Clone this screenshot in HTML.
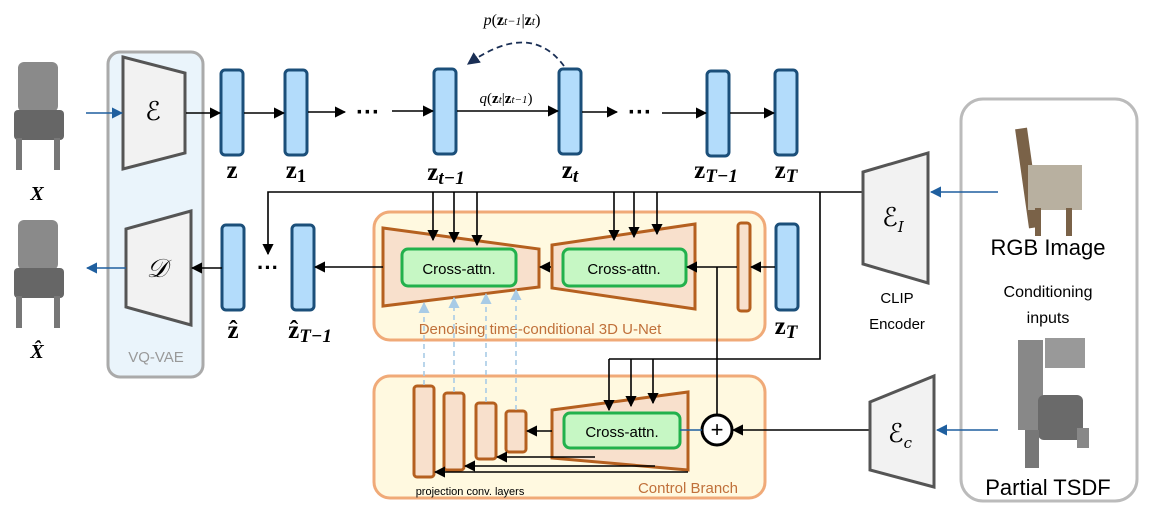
<!DOCTYPE html>
<html><head><meta charset="utf-8"><style>
html,body{margin:0;padding:0;background:#fff}
svg{display:block}
.s{font-family:"Liberation Sans",sans-serif}
.m{font-family:"Liberation Serif",serif;font-weight:bold;font-style:italic}
</style></head><body>
<svg width="1149" height="520" viewBox="0 0 1149 520" xmlns="http://www.w3.org/2000/svg">
<defs>
<marker id="a" viewBox="0 0 10 10" refX="9" refY="5" markerWidth="7" markerHeight="7" orient="auto-start-reverse"><path d="M0,0L10,5L0,10z" fill="#000"/></marker>
<marker id="b" viewBox="0 0 10 10" refX="9" refY="5" markerWidth="7" markerHeight="7" orient="auto-start-reverse"><path d="M0,0L10,5L0,10z" fill="#1f5f9f"/></marker>
<marker id="c" viewBox="0 0 10 10" refX="9" refY="5" markerWidth="7" markerHeight="7" orient="auto-start-reverse"><path d="M0,0L10,5L0,10z" fill="#a8cbe6"/></marker>
<marker id="d" viewBox="0 0 10 10" refX="9" refY="5" markerWidth="7" markerHeight="7" orient="auto-start-reverse"><path d="M0,0L10,5L0,10z" fill="#1a2f55"/></marker>
</defs>

<!-- conditioning box (drawn first) -->
<rect x="961" y="99" width="176" height="402" rx="22" fill="#fff" stroke="#bbb" stroke-width="3"/>

<!-- chairs -->
<g fill="#7a7a7a">
<rect x="18" y="62" width="40" height="50" rx="6" fill="#8a8a8a"/>
<rect x="14" y="110" width="50" height="30" rx="4" fill="#666"/>
<rect x="16" y="138" width="6" height="32" fill="#777"/><rect x="54" y="138" width="6" height="32" fill="#777"/>
<rect x="18" y="220" width="40" height="50" rx="6" fill="#8a8a8a"/>
<rect x="14" y="268" width="50" height="30" rx="4" fill="#666"/>
<rect x="16" y="296" width="6" height="32" fill="#777"/><rect x="54" y="296" width="6" height="32" fill="#777"/>
</g>
<text x="37" y="200" class="m" font-size="20" text-anchor="middle">X</text>
<text x="37" y="358" class="m" font-size="20" text-anchor="middle">X̂</text>

<!-- VQ-VAE -->
<rect x="108" y="52" width="95" height="325" rx="12" fill="#eaf4fb" stroke="#aaa" stroke-width="3"/>
<text x="156" y="362" class="s" font-size="15" fill="#999" text-anchor="middle">VQ-VAE</text>
<polygon points="123,57 185,73 185,153 123,169" fill="#f2f2f2" stroke="#555" stroke-width="3"/>
<text x="153" y="120" font-family="DejaVu Serif,serif" font-size="26" text-anchor="middle">ℰ</text>
<polygon points="126,229 191,211 191,325 126,307" fill="#f2f2f2" stroke="#555" stroke-width="3"/>
<text x="157" y="277" font-family="DejaVu Serif,serif" font-style="italic" font-size="26" text-anchor="middle">𝒟</text>
<line x1="86" y1="113" x2="122" y2="113" stroke="#1f5f9f" stroke-width="1.6" marker-end="url(#b)"/>
<line x1="126" y1="268" x2="87" y2="268" stroke="#1f5f9f" stroke-width="1.6" marker-end="url(#b)"/>

<!-- bars -->
<g fill="#b3dcfb" stroke="#1b4f7a" stroke-width="3">
<rect x="221" y="70" width="22" height="85" rx="4"/>
<rect x="285" y="70" width="22" height="85" rx="4"/>
<rect x="434" y="69" width="22" height="85" rx="4"/>
<rect x="559" y="69" width="22" height="85" rx="4"/>
<rect x="707" y="71" width="22" height="85" rx="4"/>
<rect x="775" y="70" width="22" height="85" rx="4"/>
<rect x="222" y="225" width="22" height="85" rx="4"/>
<rect x="292" y="225" width="22" height="85" rx="4"/>
<rect x="776" y="224" width="22" height="86" rx="4"/>
</g>
<g stroke="#000" stroke-width="1.6" fill="none">
<line x1="186" y1="113" x2="220" y2="113" marker-end="url(#a)"/>
<line x1="244" y1="113" x2="284" y2="113" marker-end="url(#a)"/>
<line x1="308" y1="112" x2="345" y2="112" marker-end="url(#a)"/>
<line x1="392" y1="111" x2="433" y2="111" marker-end="url(#a)"/>
<line x1="457" y1="111" x2="558" y2="111" marker-end="url(#a)"/>
<line x1="582" y1="112" x2="617" y2="112" marker-end="url(#a)"/>
<line x1="662" y1="113" x2="706" y2="113" marker-end="url(#a)"/>
<line x1="730" y1="113" x2="774" y2="113" marker-end="url(#a)"/>
</g>
<text x="368" y="120" class="s" font-size="24" font-weight="bold" text-anchor="middle">···</text>
<text x="640" y="120" class="s" font-size="24" font-weight="bold" text-anchor="middle">···</text>
<path d="M564,66 Q530,20 468,64" stroke="#1a2f55" stroke-width="1.8" fill="none" stroke-dasharray="6,4" marker-end="url(#d)"/>
<text x="512" y="25" font-family="Liberation Serif,serif" font-size="16" text-anchor="middle"><tspan font-style="italic">p</tspan>(<tspan font-weight="bold">z</tspan><tspan font-size="12" font-style="italic">t−1</tspan>|<tspan font-weight="bold">z</tspan><tspan font-size="12" font-style="italic">t</tspan>)</text>
<text x="506" y="103" font-family="Liberation Serif,serif" font-size="15" text-anchor="middle"><tspan font-style="italic">q</tspan>(<tspan font-weight="bold">z</tspan><tspan font-size="11" font-style="italic">t</tspan>|<tspan font-weight="bold">z</tspan><tspan font-size="11" font-style="italic">t−1</tspan>)</text>

<g font-family="Liberation Serif,serif" font-weight="bold" font-size="25">
<text x="232" y="178" text-anchor="middle">z</text>
<text x="296" y="178" text-anchor="middle">z<tspan font-size="19" dy="4">1</tspan></text>
<text x="446" y="180" text-anchor="middle">z<tspan font-size="19" dy="4" font-style="italic">t−1</tspan></text>
<text x="570" y="178" text-anchor="middle">z<tspan font-size="19" dy="4" font-style="italic">t</tspan></text>
<text x="716" y="178" text-anchor="middle">z<tspan font-size="19" dy="4" font-style="italic">T−1</tspan></text>
<text x="786" y="178" text-anchor="middle">z<tspan font-size="19" dy="4" font-style="italic">T</tspan></text>
<text x="233" y="338" text-anchor="middle">ẑ</text>
<text x="310" y="338" text-anchor="middle">ẑ<tspan font-size="19" dy="4" font-style="italic">T−1</tspan></text>
<text x="786" y="334" text-anchor="middle">z<tspan font-size="19" dy="4" font-style="italic">T</tspan></text>
</g>

<!-- U-Net box -->
<rect x="374" y="212" width="391" height="128" rx="16" fill="#fff9e0" stroke="#f0aa78" stroke-width="3"/>
<polygon points="383,228 539,249 539,287 383,306" fill="#f8e0cc" stroke="#b5601f" stroke-width="3"/>
<polygon points="552,245 695,224 695,309 552,288" fill="#f8e0cc" stroke="#b5601f" stroke-width="3"/>
<rect x="402" y="249" width="114" height="37" rx="6" fill="#c6f7c4" stroke="#22b14c" stroke-width="3"/>
<rect x="563" y="249" width="123" height="37" rx="6" fill="#c6f7c4" stroke="#22b14c" stroke-width="3"/>
<text x="459" y="274" class="s" font-size="15" text-anchor="middle">Cross-attn.</text>
<text x="624" y="274" class="s" font-size="15" text-anchor="middle">Cross-attn.</text>
<rect x="738" y="223" width="12" height="88" rx="3" fill="#f8e0cc" stroke="#b5601f" stroke-width="3"/>
<text x="540" y="334" class="s" font-size="15" fill="#c0703a" text-anchor="middle">Denoising time-conditional 3D U-Net</text>

<!-- Control box -->
<rect x="374" y="376" width="391" height="122" rx="16" fill="#fff9e0" stroke="#f0aa78" stroke-width="3"/>
<polygon points="552,410 688,392 688,470 552,458" fill="#f8e0cc" stroke="#b5601f" stroke-width="3"/>
<rect x="564" y="413" width="116" height="35" rx="6" fill="#c6f7c4" stroke="#22b14c" stroke-width="3"/>
<text x="622" y="437" class="s" font-size="15" text-anchor="middle">Cross-attn.</text>
<g fill="#f8e0cc" stroke="#b5601f" stroke-width="3">
<rect x="414" y="386" width="20" height="91" rx="3"/>
<rect x="444" y="393" width="20" height="77" rx="3"/>
<rect x="476" y="403" width="20" height="56" rx="3"/>
<rect x="506" y="411" width="20" height="41" rx="3"/>
</g>
<text x="470" y="495" class="s" font-size="11" text-anchor="middle">projection conv. layers</text>
<text x="688" y="493" class="s" font-size="15" fill="#c0703a" text-anchor="middle">Control Branch</text>
<circle cx="717" cy="430" r="15" fill="#fff" stroke="#000" stroke-width="3"/>
<text x="717" y="437" class="s" font-size="22" text-anchor="middle">+</text>
<line x1="680" y1="430" x2="702" y2="430" stroke="#1f5f9f" stroke-width="1.5"/>

<g stroke="#a8cbe6" stroke-width="1.6" stroke-dasharray="5,4" fill="none">
<line x1="424" y1="385" x2="424" y2="303" marker-end="url(#c)"/>
<line x1="454" y1="392" x2="454" y2="298" marker-end="url(#c)"/>
<line x1="486" y1="402" x2="486" y2="294" marker-end="url(#c)"/>
<line x1="516" y1="410" x2="516" y2="290" marker-end="url(#c)"/>
</g>

<g stroke="#000" stroke-width="1.6" fill="none">
<polyline points="862,192 268,192 268,254" marker-end="url(#a)"/>
<line x1="433" y1="192" x2="433" y2="240" marker-end="url(#a)"/>
<line x1="454" y1="192" x2="454" y2="242" marker-end="url(#a)"/>
<line x1="477" y1="192" x2="477" y2="245" marker-end="url(#a)"/>
<line x1="614" y1="192" x2="614" y2="240" marker-end="url(#a)"/>
<line x1="634" y1="192" x2="634" y2="237" marker-end="url(#a)"/>
<line x1="657" y1="192" x2="657" y2="234" marker-end="url(#a)"/>
<polyline points="820,192 820,359 609,359"/>
<line x1="609" y1="359" x2="609" y2="410" marker-end="url(#a)"/>
<line x1="631" y1="359" x2="631" y2="406" marker-end="url(#a)"/>
<line x1="653" y1="359" x2="653" y2="403" marker-end="url(#a)"/>
<line x1="775" y1="267" x2="751" y2="267" marker-end="url(#a)"/>
<line x1="737" y1="267" x2="687" y2="267" marker-end="url(#a)"/>
<line x1="717" y1="267" x2="717" y2="415"/>
<line x1="551" y1="267" x2="540" y2="267" marker-end="url(#a)"/>
<line x1="383" y1="267" x2="315" y2="267" marker-end="url(#a)"/>
<line x1="222" y1="268" x2="192" y2="268" marker-end="url(#a)"/>
<line x1="869" y1="430" x2="733" y2="430" marker-end="url(#a)"/>
<line x1="552" y1="431" x2="527" y2="431" marker-end="url(#a)"/>
<line x1="595" y1="457" x2="497" y2="457" marker-end="url(#a)"/>
<line x1="655" y1="466" x2="465" y2="466" marker-end="url(#a)"/>
<line x1="688" y1="472" x2="435" y2="472" marker-end="url(#a)"/>
</g>
<text x="268" y="275" class="s" font-size="22" font-weight="bold" text-anchor="middle">···</text>

<polygon points="863,172 928,153 928,283 863,264" fill="#f2f2f2" stroke="#555" stroke-width="3"/>
<text x="893" y="226" font-family="DejaVu Serif,serif" font-size="26" text-anchor="middle">ℰ<tspan font-size="15" font-style="italic" dy="6">I</tspan></text>
<text x="897" y="303" class="s" font-size="15" text-anchor="middle">CLIP</text>
<text x="897" y="329" class="s" font-size="15" text-anchor="middle">Encoder</text>
<polygon points="870,402 934,376 934,487 870,470" fill="#f2f2f2" stroke="#555" stroke-width="3"/>
<text x="900" y="442" font-family="DejaVu Serif,serif" font-size="26" text-anchor="middle">ℰ<tspan font-size="15" font-style="italic" dy="6">c</tspan></text>
<line x1="998" y1="192" x2="931" y2="192" stroke="#1f5f9f" stroke-width="1.6" marker-end="url(#b)"/>
<line x1="998" y1="430" x2="937" y2="430" stroke="#1f5f9f" stroke-width="1.6" marker-end="url(#b)"/>

<g>
<rect x="1022" y="128" width="12" height="100" fill="#7a6248" transform="rotate(-8 1028 178)"/>
<rect x="1028" y="165" width="54" height="45" fill="#b8b0a0"/>
<rect x="1035" y="208" width="6" height="28" fill="#7a6248"/><rect x="1066" y="208" width="6" height="28" fill="#7a6248"/>
<rect x="1018" y="340" width="25" height="90" fill="#888"/>
<rect x="1038" y="395" width="45" height="45" rx="6" fill="#6a6a6a"/>
<rect x="1045" y="338" width="40" height="30" fill="#999"/>
<rect x="1025" y="430" width="14" height="38" fill="#777"/>
<rect x="1077" y="428" width="12" height="20" fill="#888"/>
</g>
<text x="1048" y="255" class="s" font-size="22" text-anchor="middle">RGB Image</text>
<text x="1048" y="297" class="s" font-size="16" text-anchor="middle">Conditioning</text>
<text x="1048" y="323" class="s" font-size="16" text-anchor="middle">inputs</text>
<text x="1048" y="495" class="s" font-size="22" text-anchor="middle">Partial TSDF</text>
</svg>
</body></html>
